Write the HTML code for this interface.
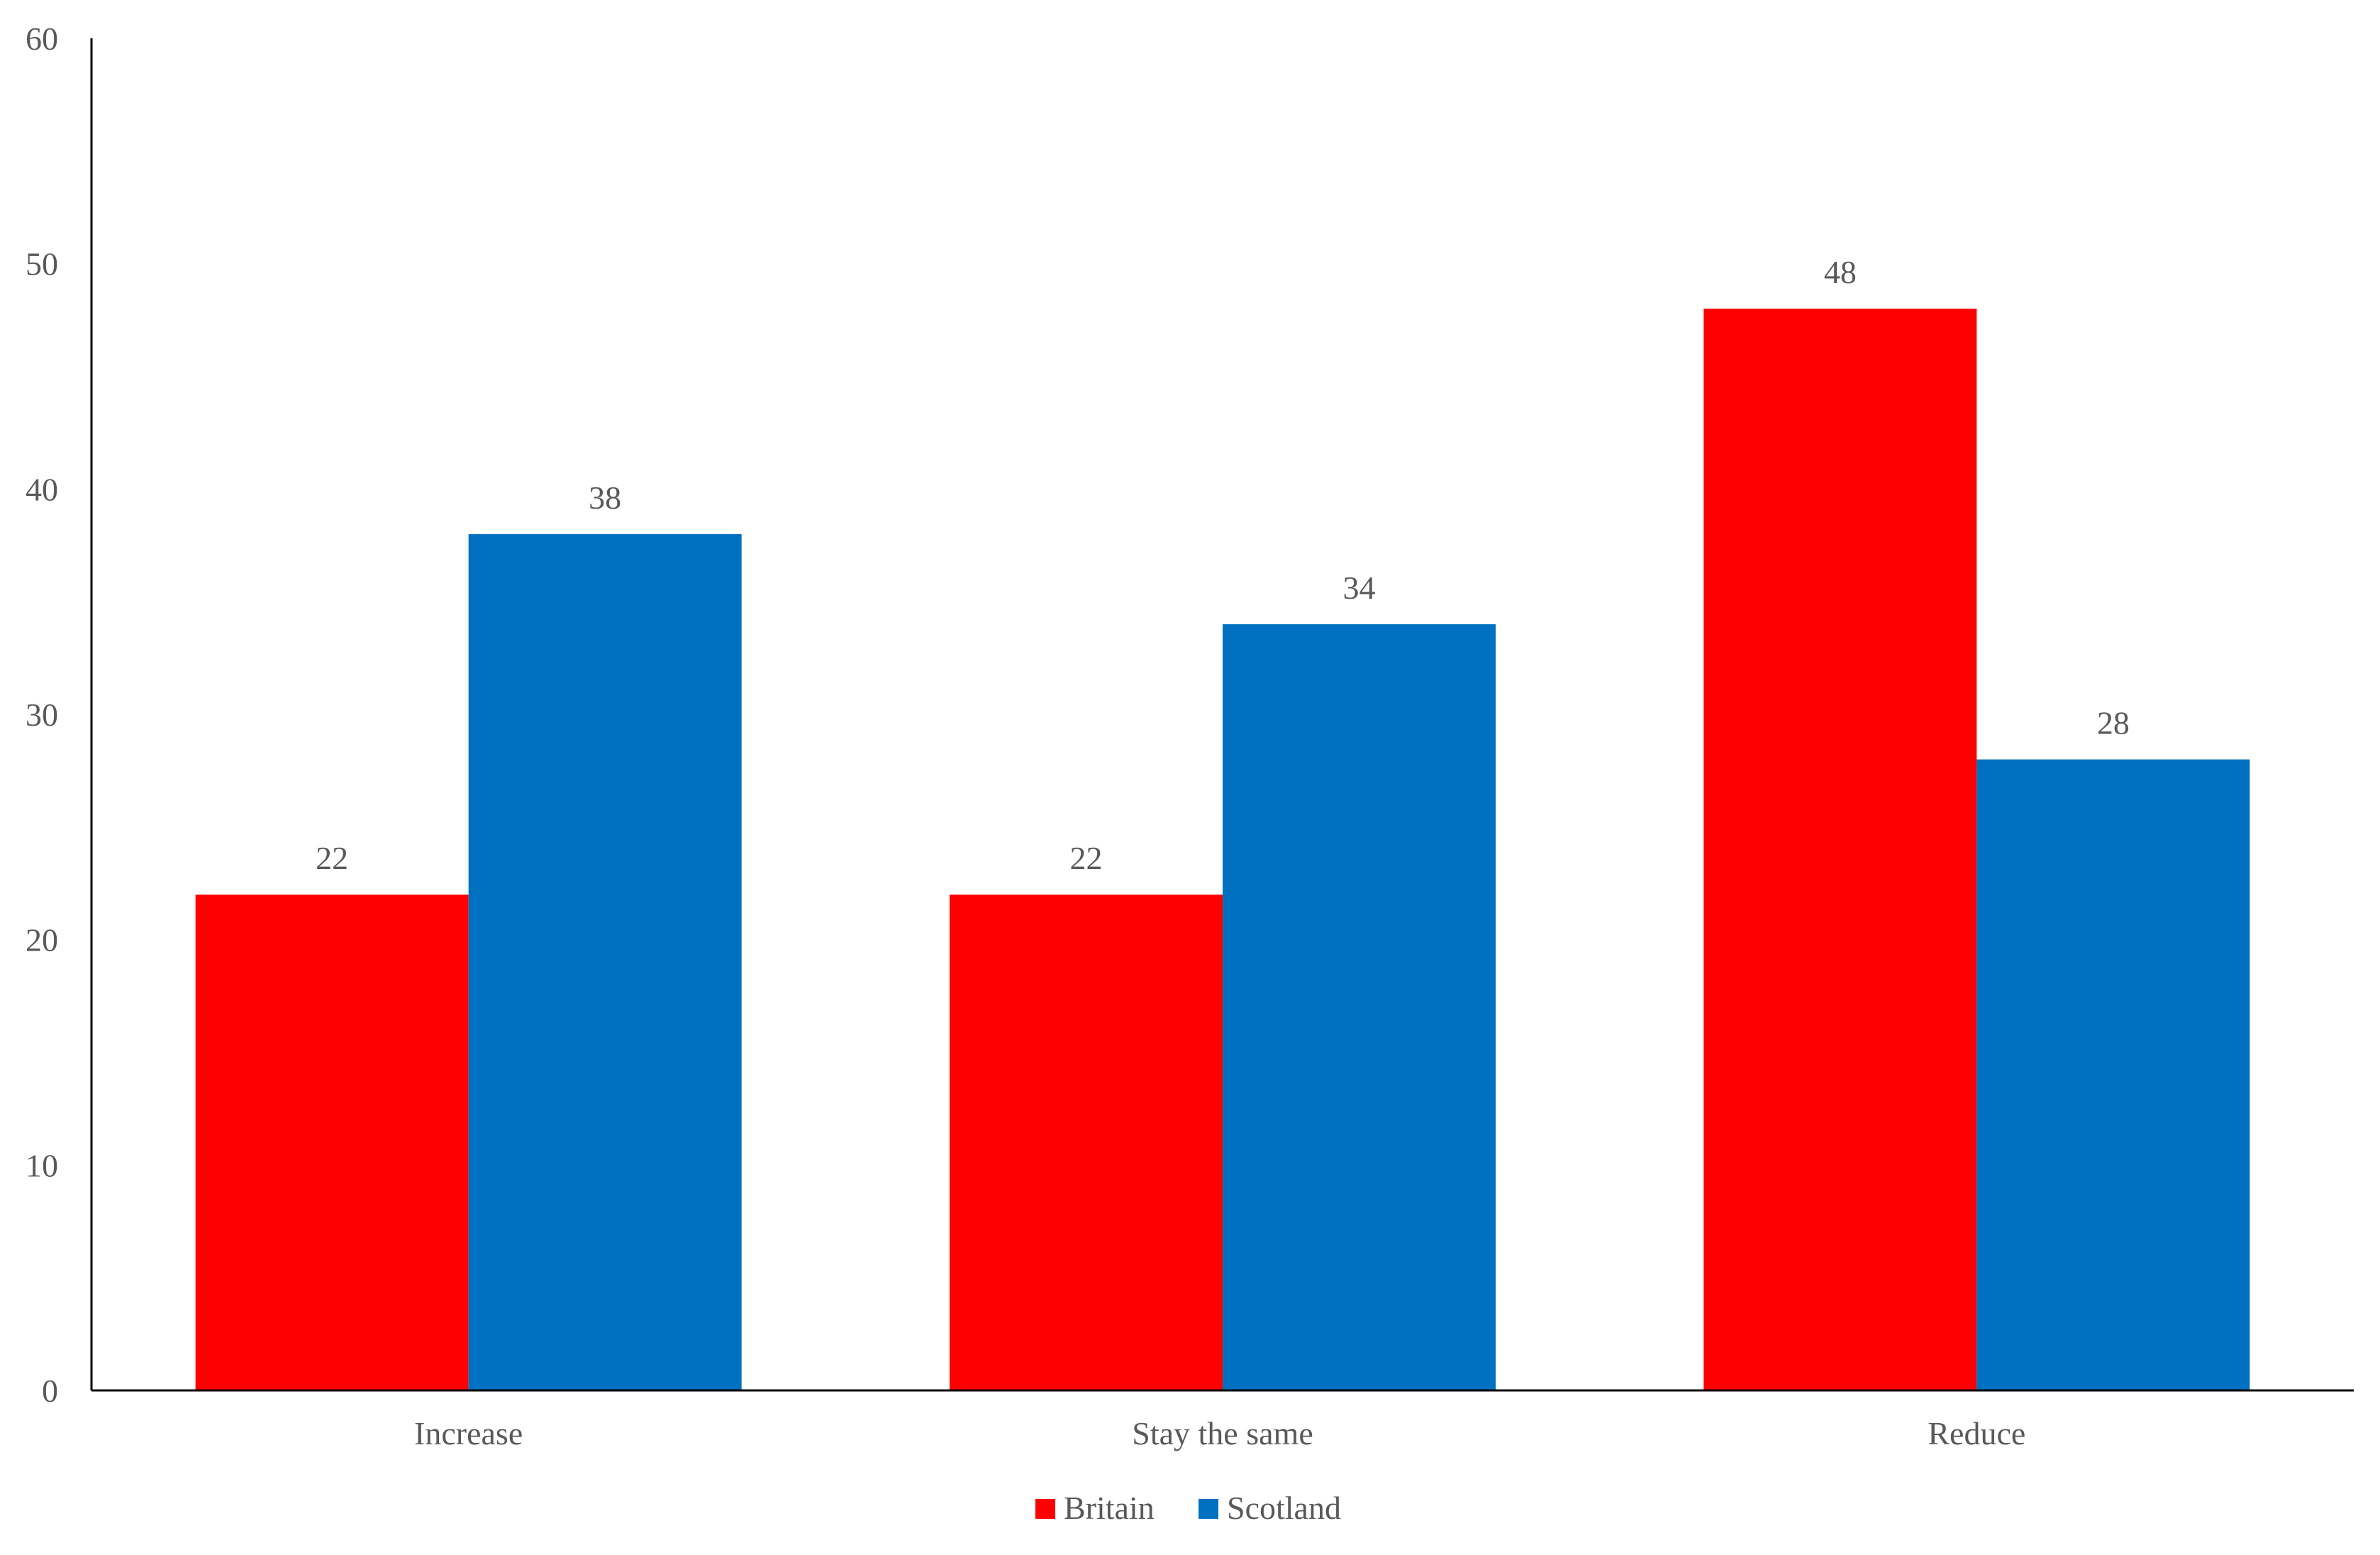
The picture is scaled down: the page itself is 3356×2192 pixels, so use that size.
<!DOCTYPE html>
<html><head><meta charset="utf-8"><style>
html,body{margin:0;padding:0;background:#fff;}
svg{display:block;}
text{font-family:"Liberation Serif",serif;fill:#595959;}
</style></head><body>
<svg id="chart" width="3356" height="2192" viewBox="0 0 3356 2192">
<g id="grid"></g>
</svg>
<script>
const categories = ["Increase", "Stay the same", "Reduce"];
const britain = [22, 22, 48];
const scotland = [38, 34, 28];
const yTicks = [0, 10, 20, 30, 40, 50, 60];
const seriesNames = ["Britain", "Scotland"];
const colors = ["#FF0000", "#0070C0"];

const NS = "http://www.w3.org/2000/svg";
const svg = document.getElementById("chart");
const X0 = 129, X1 = 3319, Y0 = 1960, Ytop = 54, YMAX = 60;
const catW = (X1 - X0) / categories.length;
const barW = 385;
function y(v){ return Y0 - (v / YMAX) * (Y0 - Ytop); }
function catCenter(i){ return X0 + catW * (i + 0.5); }
function mk(tag, attrs){ const e = document.createElementNS(NS, tag); for (const k in attrs) e.setAttribute(k, attrs[k]); svg.appendChild(e); return e; }

yTicks.forEach(t => {
  const e = mk("text", {x: 82, y: y(t) + 16, "text-anchor": "end", "font-size": 46});
  e.textContent = t;
  
  
});

const series = [britain, scotland];
series.forEach((vals, s) => {
  vals.forEach((v, i) => {
    const left = catCenter(i) - barW + s * barW;
    const r = mk("rect", {x: left, y: y(v), width: barW, height: Y0 - y(v), fill: colors[s]});
    
    
    const t = mk("text", {x: left + barW / 2, y: y(v) - 36, "text-anchor": "middle", "font-size": 46, fill: "#404040"});
    t.textContent = v;
    
    
  });
});

categories.forEach((c, i) => {
  const t = mk("text", {x: catCenter(i), y: 2036, "text-anchor": "middle", "font-size": 46});
  t.textContent = c;
  
  
});

const yAxis = mk("line", {x1: X0, y1: Ytop, x2: X0, y2: Y0, stroke: "#000", "stroke-width": 3});


const xAxis = mk("line", {x1: X0, y1: Y0, x2: X1, y2: Y0, stroke: "#000", "stroke-width": 3});



const legendX = [1460, 1690];
seriesNames.forEach((n, s) => {
  const r = mk("rect", {x: legendX[s], y: 2113, width: 28, height: 28, fill: colors[s]});
  
  
  const t = mk("text", {x: legendX[s] + 40, y: 2141, "font-size": 46});
  t.textContent = n;
  
  
});
</script>
</body></html>
